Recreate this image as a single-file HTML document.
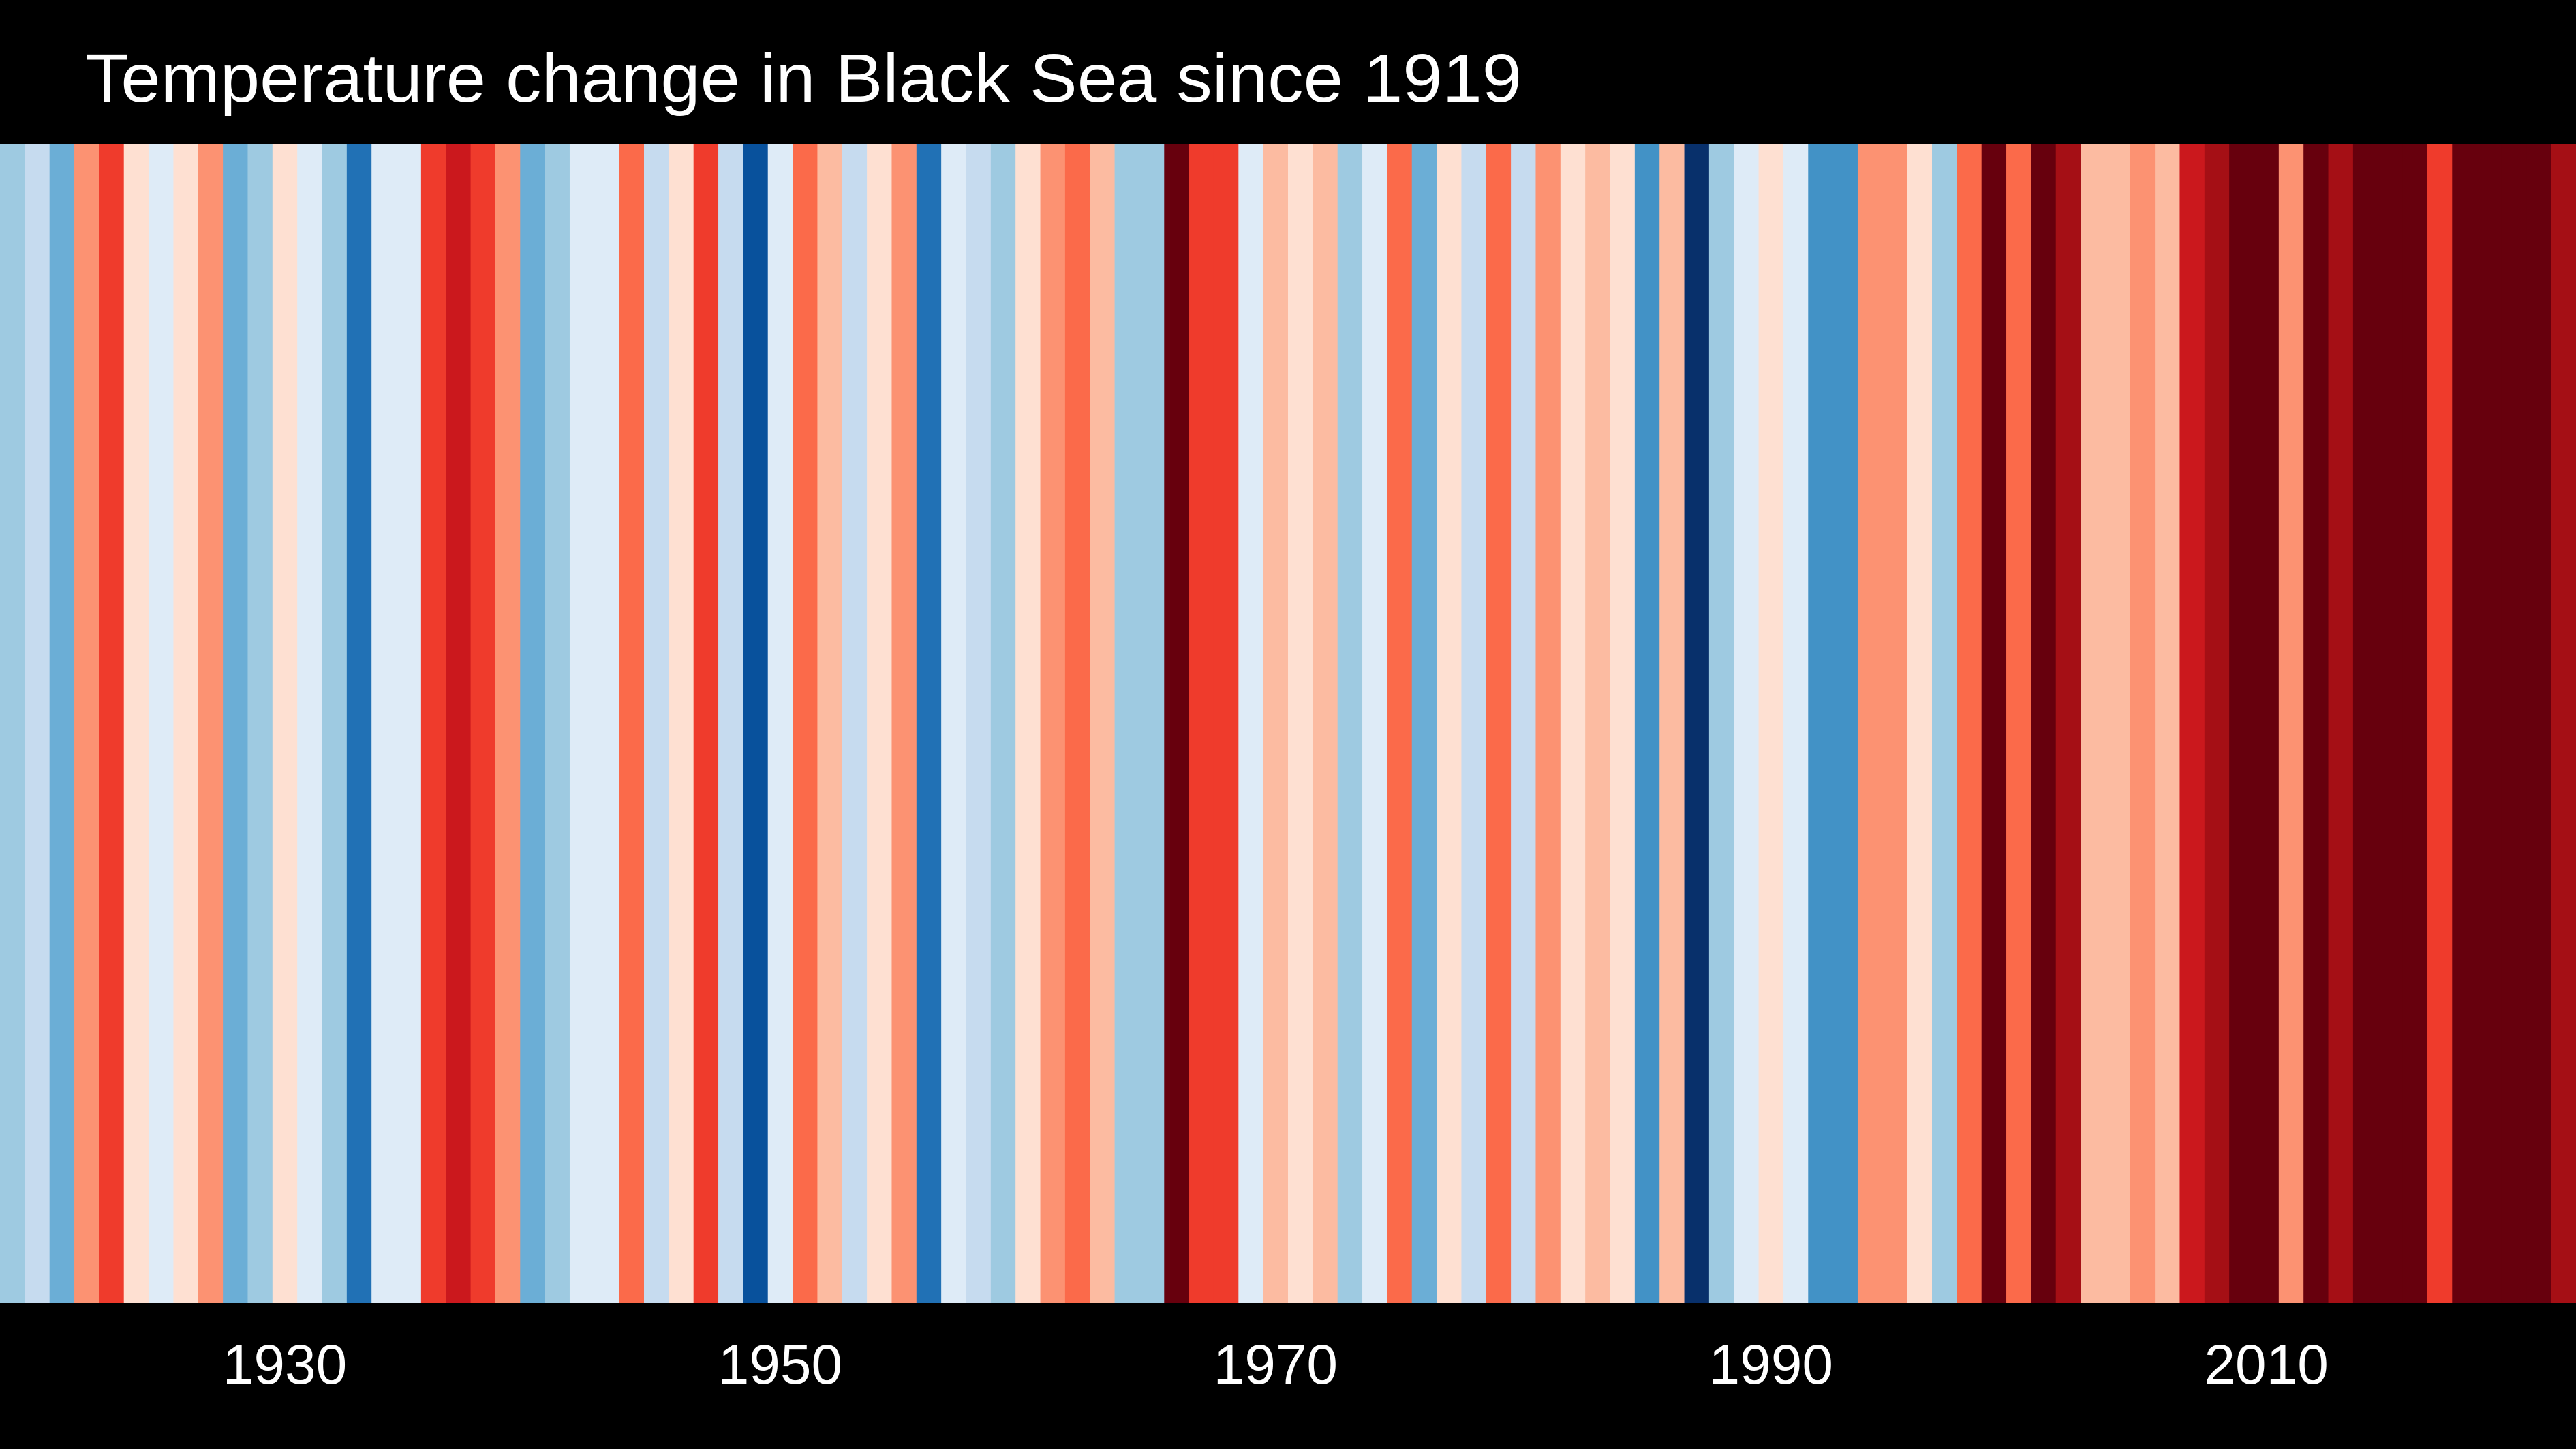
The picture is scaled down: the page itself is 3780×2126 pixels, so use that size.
<!DOCTYPE html>
<html><head><meta charset="utf-8"><style>
html,body{margin:0;padding:0;background:#000;}
svg{display:block;}
</style></head><body>
<svg id="chart" width="3780" height="2126" viewBox="0 0 3780 2126" xmlns="http://www.w3.org/2000/svg">
<rect x="0" y="0" width="3780" height="2126" fill="#000"/>
<text x="125" y="149" fill="#fff" font-family="Liberation Sans, sans-serif" font-size="100" textLength="2108" lengthAdjust="spacingAndGlyphs">Temperature change in Black Sea since 1919</text>
<g id="stripes"></g>
<g id="ticks"></g>
</svg>
<script>
const startYear = 1919;
const anomalies = [
-0.25,-0.15,-0.35,0.25,0.45,0.05,-0.05,0.05,0.25,-0.35,-0.25,0.05,-0.05,-0.25,-0.55,-0.05,-0.05,0.45,0.55,0.45,0.25,-0.35,-0.25,-0.05,-0.05,0.35,
-0.15,0.05,0.45,-0.15,-0.65,-0.05,0.35,0.15,-0.15,0.05,0.25,-0.55,-0.05,-0.15,-0.25,0.05,0.25,0.35,0.15,-0.25,-0.25,0.75,0.45,0.45,-0.05,0.15,
0.05,0.15,-0.25,-0.05,0.35,-0.35,0.05,-0.15,0.35,-0.15,0.25,0.05,0.15,0.05,-0.45,0.15,-0.75,-0.25,-0.05,0.05,-0.05,-0.45,-0.45,0.25,0.25,0.05,
-0.25,0.35,0.75,0.35,0.75,0.65,0.15,0.15,0.25,0.15,0.55,0.65,0.75,0.75,0.25,0.75,0.65,0.75,0.75,0.75,0.45,0.75,0.75,0.75,0.75,0.65
];
const tickYears = [1930,1950,1970,1990,2010];
const palette = ["#08306b","#08519c","#2171b5","#4292c6","#6baed6","#9ecae1","#c6dbef","#deebf7","#fee0d2","#fcbba1","#fc9272","#fb6a4a","#ef3b2c","#cb181d","#a50f15","#67000d"];

const NS = "http://www.w3.org/2000/svg";
const plotLeft = 0, plotRight = 3780, plotTop = 212, plotBottom = 1912;
const n = anomalies.length;
const bw = (plotRight - plotLeft) / n;
function xScale(year){ return plotLeft + (year - startYear) * bw; }
function colorScale(v){
  let i = Math.floor((v + 0.8) / 0.1);
  i = Math.max(0, Math.min(palette.length - 1, i));
  return palette[i];
}
const gS = document.getElementById("stripes");
anomalies.forEach((v, i) => {
  const r = document.createElementNS(NS, "rect");
  const x0 = xScale(startYear + i), x1 = xScale(startYear + i + 1);
  r.setAttribute("x", x0);
  r.setAttribute("y", plotTop);
  r.setAttribute("width", x1 - x0 + 0.6);
  r.setAttribute("height", plotBottom - plotTop);
  r.setAttribute("fill", colorScale(v));
  
  
  gS.appendChild(r);
});
const gT = document.getElementById("ticks");
tickYears.forEach(y => {
  const t = document.createElementNS(NS, "text");
  t.setAttribute("x", xScale(y) + bw / 2);
  t.setAttribute("y", 2030);
  t.setAttribute("fill", "#fff");
  t.setAttribute("font-family", "Liberation Sans, sans-serif");
  t.setAttribute("font-size", "82");
  t.setAttribute("text-anchor", "middle");
  t.textContent = y;
  
  
  gT.appendChild(t);
});
</script>
</body></html>
